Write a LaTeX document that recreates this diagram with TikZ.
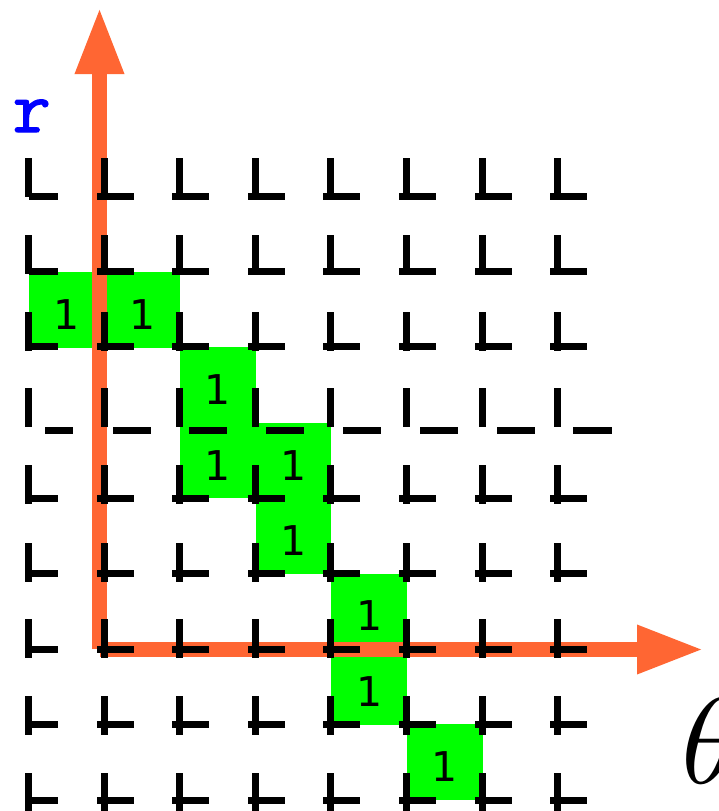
\documentclass[tikz,border=0pt]{standalone}
\usepackage{fontspec}
\newfontfamily\cellfont{DejaVu Sans}
\usetikzlibrary{arrows.meta}
\definecolor{axisorange}{RGB}{255,102,51}
\definecolor{cellgreen}{RGB}{0,255,0}
\tikzset{
  cell/.style={rectangle, fill=cellgreen, minimum size=75.6pt, inner sep=0pt,
               font=\cellfont\fontsize{41}{41}\selectfont, text height=39pt, text depth=0pt},
  bar/.style={fill=black},
  axis/.style={draw=axisorange, line width=15pt, -{Triangle[width=45pt,length=67pt]}},
  lbl/.style={inner sep=0pt, anchor=base west},
}

\begin{document}
\begin{tikzpicture}[x=1pt,y=-1pt]
\useasboundingbox (0,0) rectangle (718,811);
\clip (0,0) rectangle (718,811);
% voting cells
\foreach \c/\k [count=\n] in {0/0,1/0,2/1,2/2,3/2,3/3,4/4,4/5,5/6}
  \node[cell] (c\n) at ({66.8+75.6*\c},{309.7+75.4*\k}) {1};
% axes
\coordinate (ro) at (99.5,649);
\coordinate (rtip) at (99.5,7);
\coordinate (to) at (100,649.5);
\coordinate (ttip) at (704,649.5);
\draw[axis] (ro) -- (rtip);
\draw[axis] (to) -- (ttip);
% corner marks
\foreach \t/\h in {158/193,235/268,312/343,465/495,543/570,619/646,696/721,773/797}{
  \foreach \j in {0,...,7}{
    \pgfmathsetmacro\colx{25+75.6*\j}
    \pgfmathsetmacro\hs{max(\colx-4,29)}
    \fill[bar] (\colx,\t) rectangle ++(7,38.5);
    \fill[bar] (\hs,\h) rectangle (\colx+33,\h+7);
  }
}
% shifted row
\foreach \s/\len [count=\j from 0] in {45/28,113/38,189/38,266/38,343/38,420/38,497/38,573/39}{
  \pgfmathsetmacro\colx{25+75.6*\j}
  \fill[bar] (\colx,388) rectangle ++(7,38.5);
  \fill[bar] (\s,427) rectangle ++(\len,7);
}
\node[lbl, text=blue, line width=1.2pt, font=\ttfamily\fontsize{74}{74}\selectfont] (rlbl) at (12,132) {\pgfsetstrokecolor{blue}\special{pdf:literal direct 2 Tr}r\special{pdf:literal direct 0 Tr}};
\node[lbl] (thlbl) at (681,783) {\scalebox{12.2}{$\theta$}};
\end{tikzpicture}
\end{document}
